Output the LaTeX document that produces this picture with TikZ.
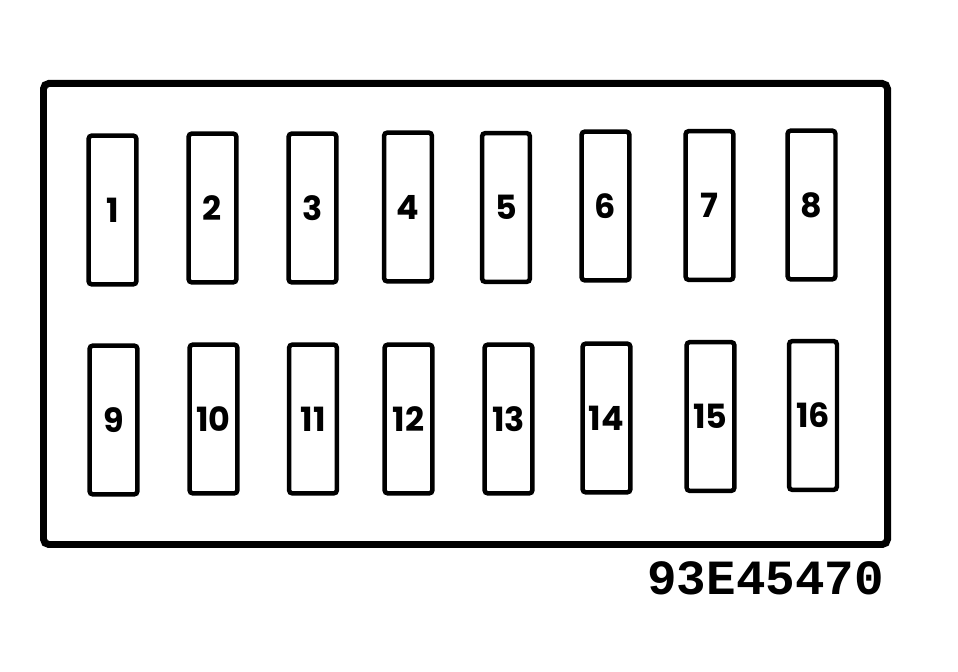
\documentclass[tikz,border=0pt]{standalone}
\usepackage{fontspec}
\setmainfont{Poppins}
\newfontfamily\codefont{Liberation Mono}
\usepackage{tikz}

\begin{document}
\begin{tikzpicture}[x=0.02cm, y=-0.02cm,
  fuse/.style={draw, line width=0.09cm, rounded corners=2pt, minimum width=0.96cm, minimum height=2.98cm, inner sep=0pt, font=\bfseries\fontsize{19}{19}\selectfont},
  box/.style={draw, line width=0.14cm, rounded corners=3pt}]
\useasboundingbox (0,0) rectangle (958,672);
\draw[box] (43.5,83.5) rectangle (887.5,544.5);
\node[fuse] (f1) at (112.5,210) {1};
\node[fuse] (f2) at (212.5,208) {2};
\node[fuse] (f3) at (312.5,208) {3};
\node[fuse] (f4) at (408,207) {4};
\node[fuse] (f5) at (506,207.5) {5};
\node[fuse] (f6) at (605.5,206) {6};
\node[fuse] (f7) at (709.5,205.5) {7};
\node[fuse] (f8) at (811.5,205) {8};
\node[fuse] (f9) at (113.5,420) {9};
\node[fuse] (f10) at (213.5,419) {10};
\node[fuse] (f11) at (313,419) {11};
\node[fuse] (f12) at (408.5,419) {12};
\node[fuse] (f13) at (508.5,419) {13};
\node[fuse] (f14) at (606.5,418) {14};
\node[fuse] (f15) at (710.5,416.5) {15};
\node[fuse] (f16) at (813,415.5) {16};
\node[anchor=base east, inner sep=0pt, font=\codefont\bfseries\fontsize{28}{28}\selectfont] (code) at (884,595) {93E45470};
\end{tikzpicture}
\end{document}
